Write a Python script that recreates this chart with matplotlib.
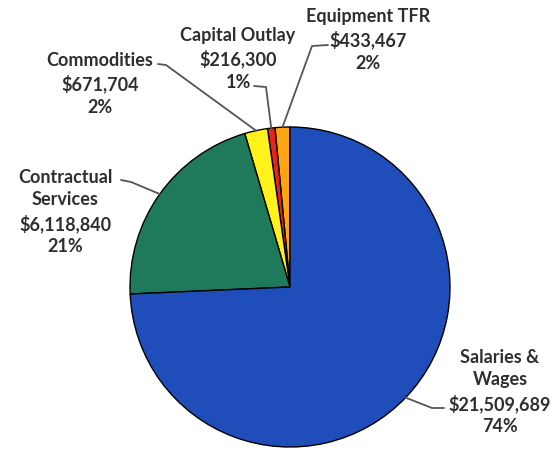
import numpy as np
import matplotlib.pyplot as plt

# budget categories, counterclockwise from the top
categories = ["Equipment TFR", "Capital Outlay", "Commodities",
              "Contractual\nServices", "Salaries &\nWages"]
amounts = [433467, 216300, 671704, 6118840, 21509689]
pct_labels = ["2%", "1%", "2%", "21%", "74%"]
colors = ["#FFA514", "#E8231A", "#FFF21C", "#1F7A5C", "#1F4DBA"]

# label text position and the elbow of the leader line (pixels, y down)
text_pos = [(368, 40), (238, 59), (100, 84), (65, 212), (500, 392)]
elbows = [[(328, 46), (312, 47)], [(254, 87), (266, 88)],
          [(158, 65), (166, 66)], [(121, 181), (131, 183)],
          [(444, 409), (432, 409)]]

W, H = 556, 452
fig = plt.figure(figsize=(W / 100, H / 100), dpi=100)
ax = fig.add_axes([0, 0, 1, 1])

cx, cy, r = 290, H - 288, 160
wedges, _ = ax.pie(amounts, colors=colors, startangle=90, counterclock=True,
                   center=(cx, cy), radius=r, frame=True,
                   wedgeprops=dict(edgecolor="black", linewidth=1.0))
ax.set_xlim(0, W)
ax.set_ylim(0, H)
ax.set_aspect("equal")
ax.axis("off")

for i, w in enumerate(wedges):
    mid = np.deg2rad((w.theta1 + w.theta2) / 2)
    ex, ey = cx + r * np.cos(mid), cy + r * np.sin(mid)
    (x1, y1), (x2, y2) = elbows[i]
    ax.plot([x1, x2, ex], [H - y1, H - y2, ey], color="#555555", lw=1.3,
            solid_capstyle="round")
    label = f"{categories[i]}\n${amounts[i]:,}\n{pct_labels[i]}"
    tx, ty = text_pos[i]
    ax.text(tx, H - ty, label, ha="center", va="center", fontsize=13,
            fontweight="bold", color="#2E2E2E", family="Lato", linespacing=1.38)

fig.savefig("out.png", dpi=100)
